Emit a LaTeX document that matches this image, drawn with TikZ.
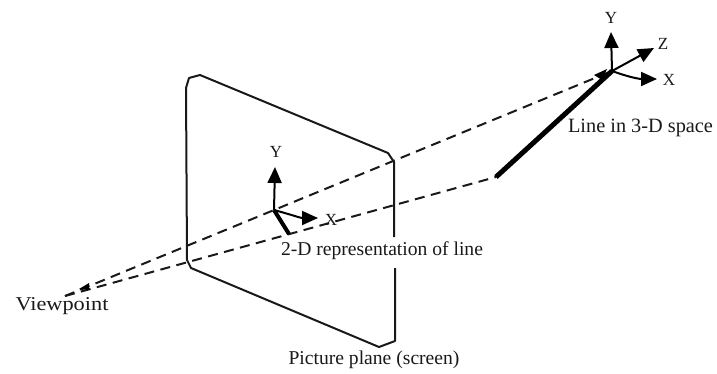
\documentclass[tikz,border=0pt]{standalone}
\usepackage{fontspec}
\setmainfont{Liberation Serif}
\usetikzlibrary{arrows.meta}
\tikzset{
 plane/.style={line width=2pt,black!90,line join=round},
 ray/.style={line width=2pt,dash pattern=on 10pt off 6.5pt,black!90},
 thick3d/.style={line width=5pt},
 thick2d/.style={line width=4pt},
 axis/.style={line width=2pt,-{Triangle[length=16pt,width=14pt]}},
 lbl/.style={inner sep=0pt,font=\fontsize{19.6}{22}\selectfont,text=black!90},
 axl/.style={inner sep=0pt,font=\fontsize{17}{19}\selectfont,text=black!90}
}
\begin{document}
\begin{tikzpicture}[x=1pt,y=-1pt]
\useasboundingbox (0,0) rectangle (717,373);
% plane
\coordinate (gapA) at (394,237);
\coordinate (gapB) at (395,268);
\draw[plane] (gapA) -- (394,162) -- (388,153) -- (200,75) -- (189,78) -- (186,88) -- (187,260) -- (191,268) -- (379,347) -- (395,341) -- (gapB);
% rays
\coordinate (vp) at (65,296);
\coordinate (o3) at (612,71);
\coordinate (e3) at (496,177);
\coordinate (o2) at (274,210);
\coordinate (e2) at (289,234);
\draw[ray] (vp) -- (o3);
\draw[ray] (vp) -- (e3);
\fill (vp) ++(14,-7) -- ++(10,-6) -- ++(0,7) -- cycle;
\fill (o3) ++(-10,9) -- ++(-8,-5) -- ++(13,-6) -- cycle;
% thick lines
\draw[thick3d] (e3) -- (o3);
\draw[thick2d] (o2) -- (e2);
% 3-D axes
\coordinate (y3) at (611,32);
\coordinate (z3) at (654,48);
\coordinate (x3) at (657,79);
\draw[axis] (o3) -- (y3);
\draw[axis] (o3) -- (z3);
\draw[axis] (o3) to[out=-20,in=180] (x3);
\node[axl] (ly3) at (611,18) {Y};
\node[axl] (lz3) at (663,44) {Z};
\node[axl] (lx3) at (669,80) {X};
% 2-D axes
\coordinate (y2) at (275,167);
\coordinate (x2) at (318,218);
\draw[axis] (o2) -- (y2);
\draw[axis] (o2) to[out=-15,in=180] (x2);
\node[axl] (ly2) at (276,152) {Y};
\node[axl] (lx2) at (331,220) {X};
% labels
\node[lbl,font=\fontsize{20.3}{22}\selectfont] (l3d) at (640.5,128) {Line in 3-D space};
\node[lbl] (l2d) at (382,251) {2-D representation of line};
\node[lbl,xscale=1.14] (lvp) at (62,306) {Viewpoint};
\node[lbl] (lpp) at (374,360) {Picture plane (screen)};
\end{tikzpicture}
\end{document}
